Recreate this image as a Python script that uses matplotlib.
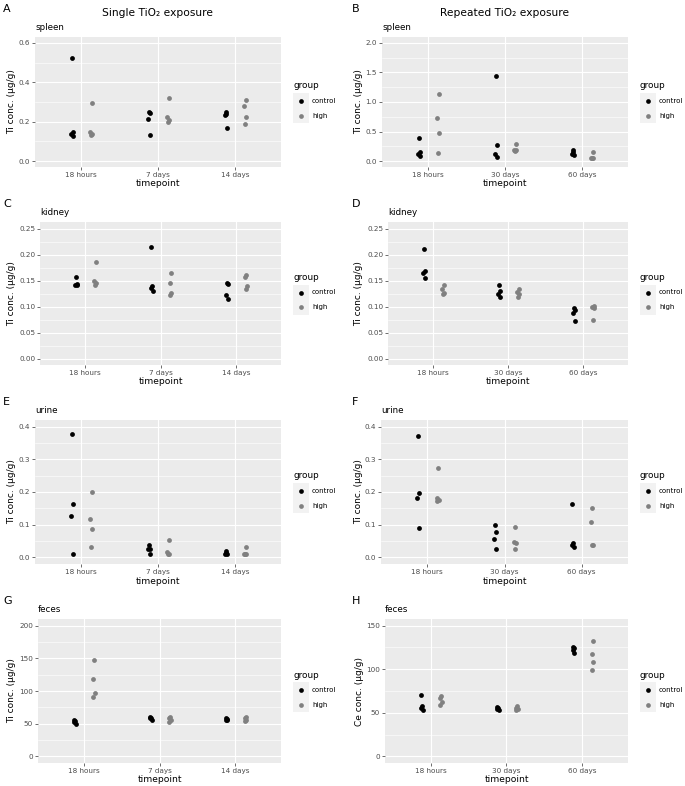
import matplotlib
matplotlib.use("Agg")
import matplotlib.pyplot as plt
import numpy as np
from matplotlib.patches import Rectangle
from matplotlib.lines import Line2D

plt.rcParams['font.family'] = ['DejaVu Sans']

W, H = 685, 786

groups = ["control", "high"]
group_colors = {"control": "#000000", "high": "#808080"}
single_times = ["18 hours", "7 days", "14 days"]
repeated_times = ["18 hours", "30 days", "60 days"]

# values: [timepoint][group] -> list of 4 values
spleen_single_control = [[0.525, 0.148, 0.138, 0.125], [0.250, 0.243, 0.213, 0.130], [0.247, 0.240, 0.232, 0.168]]
spleen_single_high = [[0.293, 0.148, 0.138, 0.130], [0.318, 0.225, 0.210, 0.200], [0.310, 0.280, 0.225, 0.190]]
spleen_rep_control = [[0.387, 0.148, 0.120, 0.090], [1.442, 0.279, 0.120, 0.074], [0.182, 0.148, 0.120, 0.100]]
spleen_rep_high = [[1.140, 0.735, 0.479, 0.131], [0.285, 0.194, 0.180, 0.165], [0.154, 0.050, 0.046, 0.050]]
kidney_single_control = [[0.157, 0.144, 0.142, 0.141], [0.214, 0.140, 0.136, 0.130], [0.145, 0.143, 0.123, 0.115]]
kidney_single_high = [[0.185, 0.150, 0.146, 0.142], [0.165, 0.145, 0.126, 0.123], [0.161, 0.156, 0.140, 0.134]]
kidney_rep_control = [[0.210, 0.169, 0.164, 0.155], [0.141, 0.129, 0.124, 0.119], [0.098, 0.094, 0.087, 0.072]]
kidney_rep_high = [[0.141, 0.134, 0.126, 0.124], [0.133, 0.128, 0.124, 0.118], [0.101, 0.099, 0.097, 0.075]]
urine_single_control = [[0.378, 0.163, 0.126, 0.010], [0.039, 0.027, 0.025, 0.010], [0.019, 0.015, 0.012, 0.010]]
urine_single_high = [[0.200, 0.119, 0.087, 0.031], [0.053, 0.017, 0.011, 0.010], [0.032, 0.010, 0.010, 0.010]]
urine_rep_control = [[0.371, 0.196, 0.182, 0.089], [0.100, 0.079, 0.056, 0.026], [0.162, 0.043, 0.039, 0.033]]
urine_rep_high = [[0.273, 0.181, 0.176, 0.174], [0.093, 0.047, 0.044, 0.026], [0.151, 0.107, 0.039, 0.037]]
feces_single_control = [[56, 54, 52, 49], [61, 59, 58, 56], [58, 57, 56, 55]]
feces_single_high = [[148, 119, 97, 91], [61, 58, 56, 53], [60, 58, 56, 54]]
feces_rep_control = [[70.5, 57.3, 55.7, 53.4], [56.5, 55.5, 54.0, 53.0], [125.5, 124.0, 122.0, 119.0]]
feces_rep_high = [[69.0, 67.2, 62.2, 59.2], [57.3, 55.7, 54.2, 52.7], [132.0, 117.6, 108.4, 99.6]]

# small horizontal jitter (category units)
jitter_control = [0.00, 0.01, -0.01, 0.015]
jitter_high = [0.01, -0.01, 0.015, 0.0]
dodge = {"control": -0.12, "high": 0.13}

panels = [
    ("A", "spleen", "Ti conc. (µg/g)", single_times, spleen_single_control, spleen_single_high,
     0.6, [0, 0.2, 0.4, 0.6], "%.1f", (35, 37, 281, 167), "Single TiO₂ exposure"),
    ("B", "spleen", "Ti conc. (µg/g)", repeated_times, spleen_rep_control, spleen_rep_high,
     2.0, [0, 0.5, 1.0, 1.5, 2.0], "%.1f", (382, 37, 628, 167), "Repeated TiO₂ exposure"),
    ("C", "kidney", "Ti conc. (µg/g)", single_times, kidney_single_control, kidney_single_high,
     0.25, [0, 0.05, 0.10, 0.15, 0.20, 0.25], "%.2f", (40, 222, 281, 365), None),
    ("D", "kidney", "Ti conc. (µg/g)", repeated_times, kidney_rep_control, kidney_rep_high,
     0.25, [0, 0.05, 0.10, 0.15, 0.20, 0.25], "%.2f", (388, 222, 628, 365), None),
    ("E", "urine", "Ti conc. (µg/g)", single_times, urine_single_control, urine_single_high,
     0.4, [0, 0.1, 0.2, 0.3, 0.4], "%.1f", (35, 420, 281, 564), None),
    ("F", "urine", "Ti conc. (µg/g)", repeated_times, urine_rep_control, urine_rep_high,
     0.4, [0, 0.1, 0.2, 0.3, 0.4], "%.1f", (381, 420, 628, 564), None),
    ("G", "feces", "Ti conc. (µg/g)", single_times, feces_single_control, feces_single_high,
     200, [0, 50, 100, 150, 200], "%d", (38, 619, 281, 763), None),
    ("H", "feces", "Ce conc. (µg/g)", repeated_times, feces_rep_control, feces_rep_high,
     150, [0, 50, 100, 150], "%d", (385, 619, 628, 763), None),
]

fig = plt.figure(figsize=(W / 100, H / 100), dpi=100)
fig.patch.set_facecolor("white")

def fx(px):
    return px / W

def fy(py):
    return 1 - py / H

tick_col = "#4D4D4D"
for (letter, sub, ylab, times, ctrl, high, ymax, major, fmt, rect, header) in panels:
    l, t, r, b = rect
    left_col = l < 300
    ax = fig.add_axes([fx(l), fy(b), (r - l) / W, (b - t) / H])
    ax.set_facecolor("#EBEBEB")
    for s in ax.spines.values():
        s.set_visible(False)
    ax.set_xlim(0.4, 3.6)
    pad = 0.05 * ymax
    ax.set_ylim(-pad, ymax + pad)
    minor = [(major[i] + major[i + 1]) / 2 for i in range(len(major) - 1)]
    ax.set_yticks(major)
    ax.set_yticks(minor, minor=True)
    ax.set_yticklabels([fmt % v for v in major])
    ax.set_xticks([1, 2, 3])
    ax.set_xticklabels(times)
    ax.grid(True, which="major", color="white", linewidth=0.8)
    ax.grid(True, which="minor", axis="y", color="white", linewidth=0.4)
    ax.set_axisbelow(True)
    ax.tick_params(axis="both", which="major", length=2, width=0.5, color="#333333",
                   labelsize=5.2, labelcolor=tick_col, pad=1.5)
    ax.tick_params(axis="y", which="minor", length=0)
    for g, vals in [("control", ctrl), ("high", high)]:
        jit = jitter_control if g == "control" else jitter_high
        for ti in range(3):
            xs = [ti + 1 + dodge[g] + j for j in jit]
            ax.scatter(xs, vals[ti], s=12, color=group_colors[g], linewidths=0, zorder=3)
    ax.set_xlabel("timepoint", fontsize=6.6, color="black", va="center")
    off = 16 if letter in "AB" else 17
    ax.xaxis.set_label_coords(0.5, -off / (b - t))
    ax.set_ylabel(ylab, fontsize=6.5, color="black", va="center")
    ylab_x = 12 if left_col else 359
    ax.yaxis.set_label_coords((ylab_x - l) / (r - l), 0.5)
    # subtitle
    fig.text(fx(l), fy(t - 10), sub, fontsize=6.3, ha="left", va="center")
    # letter
    fig.text(fx(3 if left_col else 352), fy(t - 23 if letter not in "AB" else 4), letter,
             fontsize=8, ha="left", va="top")
    if header:
        fig.text(fx((l + r) / 2), fy(13), header, fontsize=7.7, ha="center", va="center")
    # legend
    lx = 293 if left_col else 640
    cy = (t + b) / 2
    fig.text(fx(lx), fy(cy - 16), "group", fontsize=6.4, ha="left", va="center")
    fig.add_artist(Rectangle((fx(lx), fy(cy + 21)), 16 / W, 30 / H, transform=fig.transFigure,
                             facecolor="#F2F2F2", edgecolor="none"))
    for k, g in enumerate(groups):
        yy = cy - 1 + 15 * k
        fig.add_artist(Line2D([fx(lx + 8)], [fy(yy)], marker="o", markersize=3.4,
                              markeredgewidth=0, color=group_colors[g], transform=fig.transFigure))
        fig.text(fx(lx + 19), fy(yy), g, fontsize=5.0, ha="left", va="center", color="black")

fig.savefig("out.png", dpi=100)
